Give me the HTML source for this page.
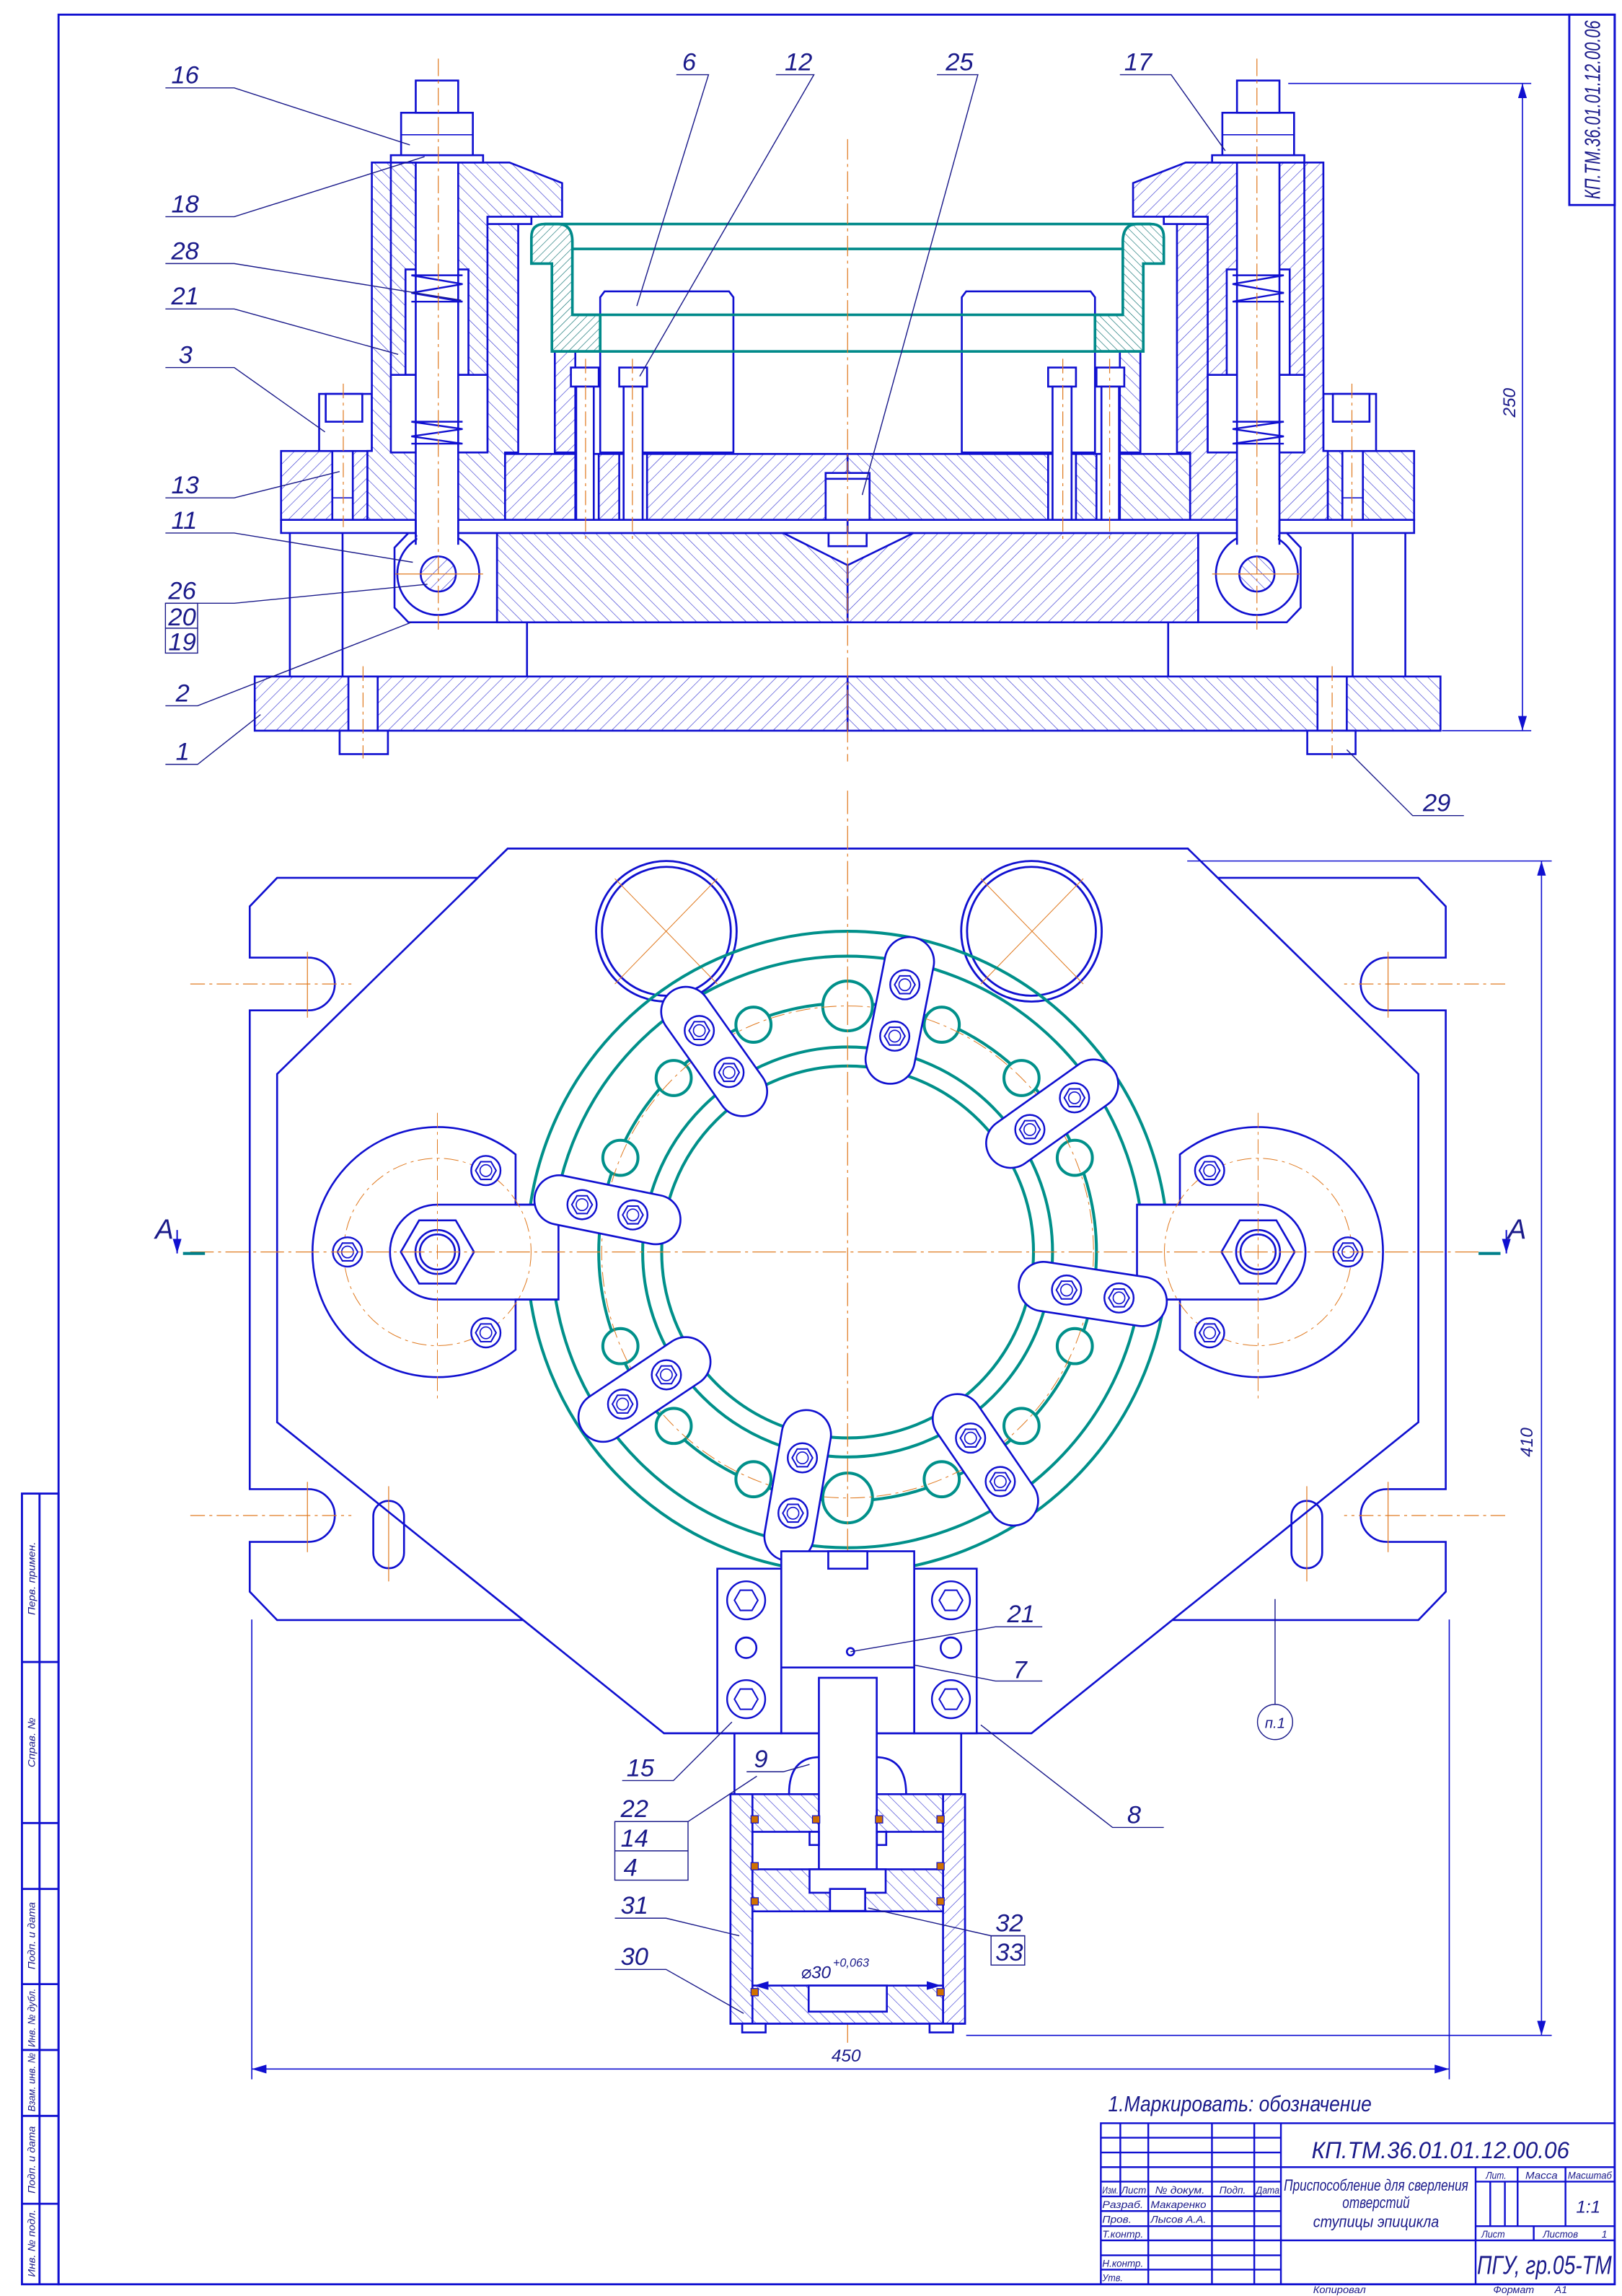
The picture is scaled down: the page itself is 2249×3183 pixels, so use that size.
<!DOCTYPE html>
<html><head><meta charset="utf-8">
<style>
html,body{margin:0;padding:0;background:#fff;}
svg{display:block;}
text{font-family:"Liberation Sans Narrow","Liberation Sans","DejaVu Sans",sans-serif;font-style:italic;fill:#1a1a8a;}
</style></head>
<body>
<svg width="2249" height="3183" viewBox="0 0 1108 1568" preserveAspectRatio="none" xmlns="http://www.w3.org/2000/svg">
<defs>
<pattern id="h1" patternUnits="userSpaceOnUse" width="6" height="6" patternTransform="rotate(45)">
<rect width="6" height="6" fill="#fff"/><line x1="0" y1="0" x2="0" y2="6" stroke="#3030d0" stroke-width="0.6"/></pattern>
<pattern id="h2" patternUnits="userSpaceOnUse" width="6" height="6" patternTransform="rotate(-45)">
<rect width="6" height="6" fill="#fff"/><line x1="0" y1="0" x2="0" y2="6" stroke="#3030d0" stroke-width="0.6"/></pattern>
<pattern id="h3" patternUnits="userSpaceOnUse" width="4" height="4" patternTransform="rotate(45)">
<rect width="4" height="4" fill="#fff"/><line x1="0" y1="0" x2="0" y2="4" stroke="#006a6a" stroke-width="0.6"/></pattern>
<marker id="ar" viewBox="0 0 10 6" refX="10" refY="3" markerWidth="10" markerHeight="6" orient="auto-start-reverse" markerUnits="userSpaceOnUse">
<path d="M0,0 L10,3 L0,6 Z" fill="#1010d0"/></marker>
<g id="bolt"><circle r="10" fill="#fff" stroke="#1010d0" stroke-width="1.2"/><polygon points="7,0 3.5,6.06 -3.5,6.06 -7,0 -3.5,-6.06 3.5,-6.06" fill="none" stroke="#1010d0" stroke-width="1"/><circle r="4" fill="none" stroke="#1010d0" stroke-width="0.8"/></g>
<g id="sbolt"><circle r="13" fill="#fff" stroke="#1010d0" stroke-width="1.2"/><polygon points="8,0 4,6.9 -4,6.9 -8,0 -4,-6.9 4,-6.9" fill="none" stroke="#1010d0" stroke-width="1"/></g>
</defs>

<rect x="0" y="0" width="1108" height="1568" fill="#fff"/>

<!-- frame -->
<g fill="none" stroke="#1010d0" stroke-width="1.4">
<rect x="40" y="10" width="1063" height="1550"/>
<rect x="1072" y="10" width="31" height="130"/>
<rect x="15" y="1020" width="25" height="540"/>
<line x1="27" y1="1020" x2="27" y2="1560"/>
<line x1="15" y1="1135" x2="40" y2="1135"/>
<line x1="15" y1="1245" x2="40" y2="1245"/>
<line x1="15" y1="1290" x2="40" y2="1290"/>
<line x1="15" y1="1355" x2="40" y2="1355"/>
<line x1="15" y1="1400" x2="40" y2="1400"/>
<line x1="15" y1="1445" x2="40" y2="1445"/>
<line x1="15" y1="1505" x2="40" y2="1505"/>
</g>
<text transform="translate(1093,75) rotate(-90)" font-size="15" text-anchor="middle" textLength="122" lengthAdjust="spacingAndGlyphs">КП.ТМ.36.01.01.12.00.06</text>
<g font-size="7" text-anchor="middle">
<text transform="translate(24,1078) rotate(-90)" textLength="50" lengthAdjust="spacingAndGlyphs">Перв. примен.</text>
<text transform="translate(24,1190) rotate(-90)" textLength="34" lengthAdjust="spacingAndGlyphs">Справ. №</text>
<text transform="translate(24,1322) rotate(-90)" textLength="46" lengthAdjust="spacingAndGlyphs">Подп. и дата</text>
<text transform="translate(24,1378) rotate(-90)" textLength="40" lengthAdjust="spacingAndGlyphs">Инв. № дубл.</text>
<text transform="translate(24,1422) rotate(-90)" textLength="40" lengthAdjust="spacingAndGlyphs">Взам. инв. №</text>
<text transform="translate(24,1475) rotate(-90)" textLength="46" lengthAdjust="spacingAndGlyphs">Подп. и дата</text>
<text transform="translate(24,1532) rotate(-90)" textLength="46" lengthAdjust="spacingAndGlyphs">Инв. № подл.</text>
</g>

<!-- title block -->
<g fill="none" stroke="#1010d0" stroke-width="1.2">
<rect x="752" y="1450" width="351" height="110"/>
<line x1="765.3" y1="1450" x2="765.3" y2="1500"/>
<line x1="784.4" y1="1450" x2="784.4" y2="1560"/>
<line x1="827.9" y1="1450" x2="827.9" y2="1560"/>
<line x1="856.8" y1="1450" x2="856.8" y2="1560"/>
<line x1="875" y1="1450" x2="875" y2="1560"/>
<line x1="752" y1="1459.9" x2="875" y2="1459.9"/>
<line x1="752" y1="1470" x2="875" y2="1470"/>
<line x1="752" y1="1480" x2="1103" y2="1480"/>
<line x1="752" y1="1489.9" x2="875" y2="1489.9"/>
<line x1="1008" y1="1489.9" x2="1103" y2="1489.9"/>
<line x1="752" y1="1500" x2="875" y2="1500"/>
<line x1="752" y1="1510" x2="875" y2="1510"/>
<line x1="752" y1="1520.3" x2="875" y2="1520.3"/>
<line x1="1008" y1="1520.3" x2="1103" y2="1520.3"/>
<line x1="752" y1="1530" x2="1103" y2="1530"/>
<line x1="752" y1="1540.2" x2="875" y2="1540.2"/>
<line x1="752" y1="1550" x2="875" y2="1550"/>
<line x1="1008" y1="1480" x2="1008" y2="1560"/>
<line x1="1036.7" y1="1480" x2="1036.7" y2="1520.3"/>
<line x1="1069.4" y1="1480" x2="1069.4" y2="1520.3"/>
<line x1="1018" y1="1489.9" x2="1018" y2="1520.3"/>
<line x1="1028" y1="1489.9" x2="1028" y2="1520.3"/>
<line x1="1047.7" y1="1520.3" x2="1047.7" y2="1530"/>
</g>
<text x="984" y="1474" font-size="16" text-anchor="middle" textLength="176" lengthAdjust="spacingAndGlyphs">КП.ТМ.36.01.01.12.00.06</text>
<g font-size="7">
<text x="753" y="1498" textLength="11" lengthAdjust="spacingAndGlyphs">Изм.</text><text x="766" y="1498" textLength="17" lengthAdjust="spacingAndGlyphs">Лист</text><text x="789" y="1498" textLength="34" lengthAdjust="spacingAndGlyphs">№ докум.</text><text x="833" y="1498" textLength="18" lengthAdjust="spacingAndGlyphs">Подп.</text><text x="858" y="1498" textLength="16" lengthAdjust="spacingAndGlyphs">Дата</text>
<text x="753" y="1508" textLength="28" lengthAdjust="spacingAndGlyphs">Разраб.</text><text x="786" y="1508" textLength="38" lengthAdjust="spacingAndGlyphs">Макаренко</text>
<text x="753" y="1518" textLength="20" lengthAdjust="spacingAndGlyphs">Пров.</text><text x="786" y="1518" textLength="38" lengthAdjust="spacingAndGlyphs">Лысов А.А.</text>
<text x="753" y="1528" textLength="28" lengthAdjust="spacingAndGlyphs">Т.контр.</text>
<text x="753" y="1548" textLength="28" lengthAdjust="spacingAndGlyphs">Н.контр.</text>
<text x="753" y="1558" textLength="14" lengthAdjust="spacingAndGlyphs">Утв.</text>
<text x="1015" y="1488" textLength="14" lengthAdjust="spacingAndGlyphs">Лит.</text><text x="1042" y="1488" textLength="22" lengthAdjust="spacingAndGlyphs">Масса</text><text x="1071" y="1488" textLength="30" lengthAdjust="spacingAndGlyphs">Масштаб</text>
<text x="1012" y="1528" textLength="16" lengthAdjust="spacingAndGlyphs">Лист</text><text x="1054" y="1528" textLength="24" lengthAdjust="spacingAndGlyphs">Листов</text><text x="1094" y="1528">1</text>
<text x="897" y="1566" textLength="36" lengthAdjust="spacingAndGlyphs">Копировал</text><text x="1020" y="1566" textLength="28" lengthAdjust="spacingAndGlyphs">Формат</text><text x="1062" y="1566">А1</text>
</g>
<g font-size="11" text-anchor="middle">
<text x="940" y="1496" textLength="126" lengthAdjust="spacingAndGlyphs">Приспособление для сверления</text>
<text x="940" y="1508" textLength="46" lengthAdjust="spacingAndGlyphs">отверстий</text>
<text x="940" y="1521" textLength="86" lengthAdjust="spacingAndGlyphs">ступицы эпицикла</text>
</g>
<text x="1085" y="1511" font-size="12" text-anchor="middle">1:1</text>
<text x="1055" y="1553" font-size="18" text-anchor="middle" textLength="92" lengthAdjust="spacingAndGlyphs">ПГУ, гр.05-ТМ</text>
<text x="757" y="1442" font-size="15" textLength="180" lengthAdjust="spacingAndGlyphs">1.Маркировать: обозначение</text>

<!-- ================= TOP SECTION VIEW ================= -->
<g id="topleft" stroke="#1010d0" stroke-width="1.3">
<rect x="174" y="462" width="405" height="37" fill="url(#h1)"/>
<rect x="238" y="462" width="20" height="37" fill="#fff"/>
<rect x="232" y="499" width="33" height="16" fill="#fff"/>
<line x1="198" y1="355" x2="198" y2="462"/><line x1="234" y1="355" x2="234" y2="462"/>
<line x1="360" y1="425" x2="360" y2="462"/>
<rect x="339.5" y="364" width="239.5" height="61" fill="url(#h2)"/>
<path d="M279,364 H339.5 V425 H279 L269.5,415 V374 Z" fill="#fff"/>
<rect x="192" y="355" width="387" height="9" fill="#fff"/>
<rect x="192" y="308" width="59" height="47" fill="url(#h1)"/>
<rect x="227" y="308" width="14" height="47" fill="#fff"/>
<line x1="227" y1="340" x2="241" y2="340" stroke-width="0.8"/>
<rect x="345" y="310" width="234" height="45" fill="url(#h1)"/>
<rect x="393" y="310" width="16" height="45" fill="#fff"/>
<rect x="423" y="310" width="19" height="45" fill="#fff"/>
<rect x="218" y="269" width="36" height="39" fill="#fff"/>
<rect x="222.5" y="269" width="25" height="19" fill="#fff"/>
<path d="M254,111 H348 L384,125 V148 H354 V309 H345 V355 H251 V308 H254 Z" fill="url(#h2)"/>
<rect x="333" y="148" width="30" height="5" fill="#fff"/>
<line x1="333" y1="148" x2="333" y2="309"/>
<line x1="267" y1="111" x2="267" y2="256"/>
<rect x="277" y="184" width="43" height="72" fill="#fff"/>
<rect x="267" y="256" width="66" height="53" fill="#fff"/>
<rect x="284" y="111" width="29" height="255" fill="#fff"/>
<path d="M281,188 L316,194 L281,200 L316,206 M281,188 L316,188 M281,206 L316,206" fill="none" stroke-width="1.2"/>
<path d="M281,288 L316,293 L281,298 L316,303 M281,288 L316,288 M281,303 L316,303" fill="none" stroke-width="1.2"/>
<rect x="267" y="106" width="63" height="5" fill="#fff"/>
<rect x="274" y="77" width="49" height="29" fill="#fff"/>
<line x1="274" y1="92" x2="323" y2="92" stroke-width="0.8"/>
<rect x="284" y="55" width="29" height="22" fill="#fff"/>
<circle cx="299.4" cy="392" r="28" fill="#fff"/>
<rect x="285" y="355" width="28" height="14" fill="#fff" stroke="none"/>
<line x1="284" y1="355" x2="284" y2="372"/><line x1="313" y1="355" x2="313" y2="372"/>
<circle cx="299.4" cy="392" r="12" fill="url(#h1)"/>
<rect x="379" y="240" width="14" height="69" fill="url(#h1)"/>
<rect x="442" y="264" width="8" height="45" fill="url(#h1)"/>
<path d="M413,199 H498 L501,203 V309 H410 V203 Z" fill="#fff"/>
<rect x="390" y="251" width="19" height="13" fill="#fff"/>
<rect x="393.6" y="264" width="12" height="91" fill="#fff"/>
<rect x="423" y="251" width="19" height="13" fill="#fff"/>
<rect x="426" y="264" width="13" height="91" fill="#fff"/>
<path d="M372,153 H381 Q391,153 391,165 V215 H410 V240 H377 V180 H363 V162 Q363,153 372,153 Z" fill="url(#h3)" stroke="#008a8a" stroke-width="1.8"/>
<line x1="299.4" y1="40" x2="299.4" y2="430" stroke="#e07a20" stroke-width="0.6" stroke-dasharray="12 3 2 3"/>
<line x1="270" y1="392" x2="330" y2="392" stroke="#e07a20" stroke-width="0.6"/>
<line x1="234.5" y1="262" x2="234.5" y2="360" stroke="#e07a20" stroke-width="0.6" stroke-dasharray="10 3 2 3"/>
<line x1="248" y1="455" x2="248" y2="518" stroke="#e07a20" stroke-width="0.6" stroke-dasharray="10 3 2 3"/>
<line x1="400" y1="245" x2="400" y2="370" stroke="#e07a20" stroke-width="0.6" stroke-dasharray="10 3 2 3"/>
<line x1="432" y1="245" x2="432" y2="370" stroke="#e07a20" stroke-width="0.6" stroke-dasharray="10 3 2 3"/>
</g>
<use href="#topleft" transform="translate(1158,0) scale(-1,1)"/>
<g stroke="#008a8a" stroke-width="1.8" fill="none">
<line x1="372" y1="153" x2="786" y2="153"/>
<line x1="391" y1="170" x2="767" y2="170"/>
<line x1="391" y1="215" x2="767" y2="215"/>
<line x1="377" y1="240" x2="781" y2="240"/>
</g>
<g stroke="#1010d0" stroke-width="1.3">
<rect x="564" y="323" width="30" height="32" fill="#fff"/>
<line x1="564" y1="327" x2="594" y2="327"/>
<path d="M535,364 L579,386 L624,364 Z" fill="#fff"/>
<rect x="566" y="364" width="26" height="9" fill="#fff"/>
<line x1="579" y1="95" x2="579" y2="400" stroke="#e07a20" stroke-width="0.6" stroke-dasharray="14 3 2 3"/>
<line x1="579" y1="405" x2="579" y2="520" stroke="#e07a20" stroke-width="0.6" stroke-dasharray="14 3 2 3"/>
</g>

<g stroke="#1010d0" stroke-width="0.8" fill="none">
<line x1="880" y1="57" x2="1046" y2="57"/>
<line x1="985" y1="499" x2="1046" y2="499"/>
<line x1="1040" y1="57" x2="1040" y2="499" marker-start="url(#ar)" marker-end="url(#ar)"/>
</g>
<text transform="translate(1035,275) rotate(-90)" font-size="12" text-anchor="middle">250</text>

<g stroke="#1a1a8a" stroke-width="0.7" fill="none">
<path d="M113,60 H160 L280,99"/>
<path d="M113,148 H160 L290,107"/>
<path d="M113,180 H160 L315,205"/>
<path d="M113,211 H160 L272,242"/>
<path d="M113,251 H160 L222,295"/>
<path d="M113,340 H160 L232,322"/>
<path d="M113,364 H160 L282,384"/>
<path d="M113,412 H160 L292,399"/>
<path d="M113,482 H135 L281,425"/>
<path d="M113,522 H135 L178,488"/>
<rect x="113" y="412" width="22" height="34"/>
<line x1="113" y1="429" x2="135" y2="429"/>
<path d="M462,51 H484 L435,209"/>
<path d="M530,51 H556 L437,257"/>
<path d="M640,51 H668 L589,338"/>
<path d="M765,51 H800 L837,103"/>
<path d="M1000,557 H965 L920,512"/>
</g>
<g font-size="17">
<text x="117" y="57">16</text><text x="117" y="145">18</text><text x="117" y="177">28</text><text x="117" y="208">21</text>
<text x="122" y="248">3</text><text x="117" y="337">13</text><text x="117" y="361">11</text>
<text x="115" y="409">26</text><text x="115" y="427">20</text><text x="115" y="444">19</text>
<text x="120" y="479">2</text><text x="120" y="519">1</text>
<text x="466" y="48">6</text><text x="536" y="48">12</text><text x="646" y="48">25</text>
<text x="768" y="48">17</text><text x="972" y="554">29</text>
</g>

<!-- ================= PLAN VIEW ================= -->
<g id="flangeL" stroke="#1010d0" stroke-width="1.3" fill="none">
<path d="M326.3,599.5 L189.3,599.5 L170.6,619 L170.6,654 L210.7,654 A18,18 0 0 1 210.7,690 L170.6,690 L170.6,1017 L210.7,1017 A18,18 0 0 1 210.7,1053 L170.6,1053 L170.6,1087 L189.3,1106.4 L357.4,1106.4"/>
<rect x="255" y="1025" width="21" height="46" rx="10.5" fill="#fff"/>
<line x1="130" y1="672" x2="240" y2="672" stroke="#e07a20" stroke-width="0.6" stroke-dasharray="10 3 2 3"/>
<line x1="210" y1="650" x2="210" y2="695" stroke="#e07a20" stroke-width="0.6"/>
<line x1="130" y1="1035" x2="240" y2="1035" stroke="#e07a20" stroke-width="0.6" stroke-dasharray="10 3 2 3"/>
<line x1="210" y1="1012" x2="210" y2="1060" stroke="#e07a20" stroke-width="0.6"/>
<line x1="265.5" y1="1015" x2="265.5" y2="1080" stroke="#e07a20" stroke-width="0.6"/>
</g>
<use href="#flangeL" transform="translate(1158.2,0) scale(-1,1)"/>
<polygon points="346.8,579.5 811.4,579.5 968.9,733.5 968.9,971.3 704.6,1183.7 453.6,1183.7 189.3,971.3 189.3,733.5" fill="none" stroke="#1010d0" stroke-width="1.3"/>

<g stroke="#1010d0" stroke-width="1.4" fill="#fff">
<circle cx="455.2" cy="636" r="48"/><circle cx="455.2" cy="636" r="44" fill="none"/>
<circle cx="704.6" cy="636" r="48"/><circle cx="704.6" cy="636" r="44" fill="none"/>
</g>
<g stroke="#e07a20" stroke-width="0.5" fill="none">
<line x1="420" y1="600" x2="490" y2="672"/><line x1="490" y1="600" x2="420" y2="672"/>
<line x1="670" y1="600" x2="740" y2="672"/><line x1="740" y1="600" x2="670" y2="672"/>
</g>

<g stroke="#00908a" stroke-width="2" fill="none">
<circle cx="579" cy="855" r="219"/>
<circle cx="579" cy="855" r="202"/>
<circle cx="579" cy="855" r="170"/>
<circle cx="579" cy="855" r="140"/>
<circle cx="579" cy="855" r="127"/>
<circle cx="579" cy="687" r="17" fill="#fff"/>
<circle cx="579" cy="1023" r="17" fill="#fff"/>
<circle cx="514.7" cy="699.8" r="12" fill="#fff"/>
<circle cx="460.2" cy="736.2" r="12" fill="#fff"/>
<circle cx="423.8" cy="790.7" r="12" fill="#fff"/>
<circle cx="423.8" cy="919.3" r="12" fill="#fff"/>
<circle cx="460.2" cy="973.8" r="12" fill="#fff"/>
<circle cx="514.7" cy="1010.2" r="12" fill="#fff"/>
<circle cx="643.3" cy="1010.2" r="12" fill="#fff"/>
<circle cx="697.8" cy="973.8" r="12" fill="#fff"/>
<circle cx="734.2" cy="919.3" r="12" fill="#fff"/>
<circle cx="734.2" cy="790.7" r="12" fill="#fff"/>
<circle cx="697.8" cy="736.2" r="12" fill="#fff"/>
<circle cx="643.3" cy="699.8" r="12" fill="#fff"/>
</g>
<circle cx="579" cy="855" r="168" fill="none" stroke="#e07a20" stroke-width="0.5" stroke-dasharray="10 3 2 3"/>

<g id="armL" stroke="#1010d0" stroke-width="1.3">
<path d="M352.2,788.4 A85.4,85.4 0 1 0 352.2,921.8 L352.2,887.5 L381.5,887.5 L381.5,822.7 L352.2,822.7 Z" fill="#fff"/>
<path d="M381.5,822.7 H298.8 A32.4,32.4 0 0 0 298.8,887.5 H381.5" fill="none"/>
<circle cx="298.8" cy="855" r="64" fill="none" stroke="#e07a20" stroke-width="0.5" stroke-dasharray="10 3 2 3"/>
<polygon points="323.8,855 311.3,876.6 286.3,876.6 273.8,855 286.3,833.4 311.3,833.4" fill="#fff"/>
<circle cx="298.8" cy="855" r="15" fill="none"/>
<circle cx="298.8" cy="855" r="12" fill="none"/>
<use href="#bolt" x="331.9" y="799.4"/>
<use href="#bolt" x="331.9" y="910.2"/>
<use href="#bolt" x="237.4" y="855"/>
<line x1="298.8" y1="760" x2="298.8" y2="955" stroke="#e07a20" stroke-width="0.5" stroke-dasharray="10 3 2 3"/>
</g>
<use href="#armL" transform="translate(1158.2,0) scale(-1,1)"/>

<g stroke-linecap="round">
<g stroke="#1010d0" stroke-width="35">
<line x1="468.5" y1="690.8" x2="507.2" y2="745.4"/>
<line x1="621.2" y1="656.8" x2="608.1" y2="723.3"/>
<line x1="747" y1="740.4" x2="690.5" y2="780.7"/>
<line x1="381.9" y1="819.5" x2="448" y2="832.9"/>
<line x1="712.8" y1="878.6" x2="780.2" y2="888.8"/>
<line x1="468.5" y1="930" x2="412" y2="967.8"/>
<line x1="550.8" y1="979.8" x2="539" y2="1049.2"/>
<line x1="654" y1="968.9" x2="692.3" y2="1025"/>
</g>
<g stroke="#fff" stroke-width="32.4">
<line x1="468.5" y1="690.8" x2="507.2" y2="745.4"/>
<line x1="621.2" y1="656.8" x2="608.1" y2="723.3"/>
<line x1="747" y1="740.4" x2="690.5" y2="780.7"/>
<line x1="381.9" y1="819.5" x2="448" y2="832.9"/>
<line x1="712.8" y1="878.6" x2="780.2" y2="888.8"/>
<line x1="468.5" y1="930" x2="412" y2="967.8"/>
<line x1="550.8" y1="979.8" x2="539" y2="1049.2"/>
<line x1="654" y1="968.9" x2="692.3" y2="1025"/>
</g>
</g>
<g>
<use href="#bolt" x="477.7" y="703.8"/><use href="#bolt" x="498" y="732.4"/>
<use href="#bolt" x="618.1" y="672.5"/><use href="#bolt" x="611.2" y="707.6"/>
<use href="#bolt" x="734" y="749.7"/><use href="#bolt" x="703.5" y="771.4"/>
<use href="#bolt" x="397.6" y="822.7"/><use href="#bolt" x="432.3" y="829.7"/>
<use href="#bolt" x="728.6" y="881"/><use href="#bolt" x="764.4" y="886.4"/>
<use href="#bolt" x="455.2" y="938.9"/><use href="#bolt" x="425.3" y="958.9"/>
<use href="#bolt" x="548.1" y="995.6"/><use href="#bolt" x="541.7" y="1033.4"/>
<use href="#bolt" x="663" y="982.1"/><use href="#bolt" x="683.3" y="1011.8"/>
</g>

<g stroke="#e07a20" stroke-width="0.6" fill="none" stroke-dasharray="16 3 2 3">
<line x1="130" y1="855" x2="1010" y2="855"/>
<line x1="579" y1="540" x2="579" y2="1395"/>
</g>

<g stroke="#1010d0" stroke-width="1.3">
<rect x="490" y="1071.3" width="43.7" height="112.4" fill="#fff"/>
<rect x="624.5" y="1071.3" width="42.7" height="112.4" fill="#fff"/>
<rect x="533.7" y="1059.4" width="90.8" height="124.3" fill="#fff"/>
<rect x="565.8" y="1059.4" width="26.7" height="11.9" fill="#fff"/>
<line x1="533.7" y1="1138.8" x2="624.5" y2="1138.8"/>
<use href="#sbolt" x="509.7" y="1092.9"/><use href="#sbolt" x="509.7" y="1160.4"/>
<circle cx="509.7" cy="1125.3" r="7" fill="#fff"/>
<use href="#sbolt" x="649.6" y="1092.9"/><use href="#sbolt" x="649.6" y="1160.4"/>
<circle cx="649.6" cy="1125.3" r="7" fill="#fff"/>
<circle cx="581" cy="1128" r="2.5" fill="#fff"/>
<line x1="501.7" y1="1183.7" x2="501.7" y2="1225.3"/>
<line x1="656.6" y1="1183.7" x2="656.6" y2="1225.3"/>
<path d="M539,1225.3 Q539,1200 560,1200 Q579,1206 598,1200 Q619,1200 619,1225.3" fill="#fff"/>
<rect x="499" y="1225.3" width="160.2" height="156.7" fill="#fff"/>
<rect x="499" y="1225.3" width="15" height="156.7" fill="url(#h2)"/>
<rect x="644.2" y="1225.3" width="15" height="156.7" fill="url(#h1)"/>
<rect x="514" y="1225.3" width="130.2" height="25.7" fill="url(#h2)"/>
<rect x="514" y="1276.6" width="130.2" height="28.7" fill="url(#h2)"/>
<rect x="514" y="1356" width="130.2" height="26" fill="url(#h2)"/>
<rect x="552.4" y="1356" width="53.4" height="17.8" fill="#fff"/>
<rect x="559.4" y="1145.8" width="39.5" height="130.8" fill="#fff"/>
<rect x="553" y="1251" width="6.4" height="9" fill="#fff"/>
<rect x="599" y="1251" width="6.4" height="9" fill="#fff"/>
<rect x="553" y="1276.6" width="52" height="16" fill="#fff"/>
<rect x="567" y="1290" width="24" height="15" fill="#fff"/>
<rect x="507" y="1382" width="16" height="6" fill="#fff"/>
<rect x="635" y="1382" width="16" height="6" fill="#fff"/>
</g>
<g fill="#d07000" stroke="#1010d0" stroke-width="0.6">
<rect x="513" y="1240" width="5" height="5"/><rect x="640" y="1240" width="5" height="5"/>
<rect x="513" y="1272" width="5" height="5"/><rect x="640" y="1272" width="5" height="5"/>
<rect x="513" y="1296" width="5" height="5"/><rect x="640" y="1296" width="5" height="5"/>
<rect x="513" y="1358" width="5" height="5"/><rect x="640" y="1358" width="5" height="5"/>
<rect x="555" y="1240" width="5" height="5"/><rect x="598" y="1240" width="5" height="5"/>
</g>
<line x1="515" y1="1356" x2="643" y2="1356" stroke="#1010d0" stroke-width="0.8" marker-start="url(#ar)" marker-end="url(#ar)"/>
<text x="547" y="1351" font-size="12">⌀30</text><text x="569" y="1343" font-size="8">+0,063</text>

<g stroke="#1010d0" stroke-width="0.8" fill="none">
<line x1="172" y1="1106" x2="172" y2="1420"/>
<line x1="990" y1="1106" x2="990" y2="1420"/>
<line x1="172" y1="1413" x2="990" y2="1413" marker-start="url(#ar)" marker-end="url(#ar)"/>
<line x1="811" y1="588" x2="1060" y2="588"/>
<line x1="660" y1="1390" x2="1060" y2="1390"/>
<line x1="1053" y1="588" x2="1053" y2="1390" marker-start="url(#ar)" marker-end="url(#ar)"/>
</g>
<text x="578" y="1408" font-size="12" text-anchor="middle">450</text>
<text transform="translate(1047,985) rotate(-90)" font-size="12" text-anchor="middle">410</text>

<g stroke="#00808a" stroke-width="2">
<line x1="125" y1="856" x2="140" y2="856"/>
<line x1="1010" y1="856" x2="1025" y2="856"/>
</g>
<line x1="121" y1="840" x2="121" y2="856" stroke="#1010d0" stroke-width="1" marker-end="url(#ar)"/>
<line x1="1029" y1="840" x2="1029" y2="856" stroke="#1010d0" stroke-width="1" marker-end="url(#ar)"/>
<text x="106" y="846" font-size="19">A</text>
<text x="1030" y="846" font-size="19">A</text>

<g stroke="#1a1a8a" stroke-width="0.7" fill="none">
<path d="M712,1111 H680 L581,1128"/>
<path d="M712,1148 H680 L624,1137"/>
<path d="M425,1216 H460 L500,1176"/>
<path d="M795,1248 H760 L670,1178"/>
<path d="M510,1210 H535 L553,1205"/>
<path d="M420,1244 H470 L517,1213"/>
<rect x="420" y="1244" width="50" height="40"/>
<line x1="420" y1="1264" x2="470" y2="1264"/>
<path d="M420,1310 H455 L505,1322"/>
<path d="M420,1345 H455 L508,1375"/>
<path d="M700,1322 H677 L593,1303"/>
<rect x="677" y="1322" width="23" height="20"/>
<circle cx="871" cy="1176" r="12"/>
<line x1="871" y1="1164" x2="871" y2="1092"/>
</g>
<g font-size="17">
<text x="688" y="1108">21</text><text x="692" y="1146">7</text>
<text x="428" y="1213">15</text><text x="770" y="1245">8</text>
<text x="515" y="1207">9</text>
<text x="424" y="1241">22</text><text x="424" y="1261">14</text><text x="426" y="1281">4</text>
<text x="424" y="1307">31</text><text x="424" y="1342">30</text>
<text x="680" y="1319">32</text><text x="680" y="1339">33</text>
</g>
<text x="871" y="1180" font-size="10" text-anchor="middle">п.1</text>
</svg>
</body></html>
